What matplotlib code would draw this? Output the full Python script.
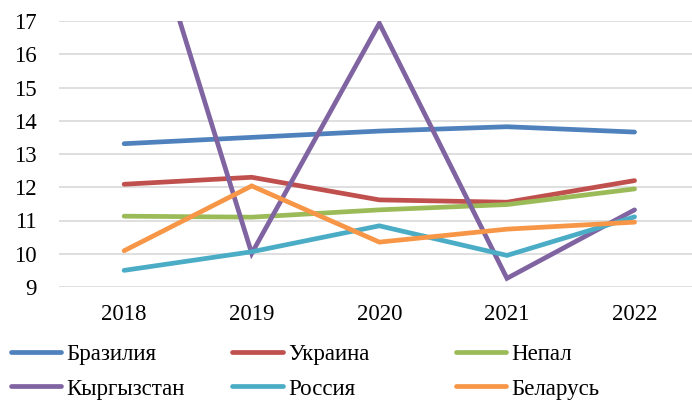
import matplotlib
matplotlib.use("Agg")
import matplotlib.pyplot as plt

years = ["2018", "2019", "2020", "2021", "2022"]
brazil = [13.31, 13.50, 13.69, 13.82, 13.66]
ukraine = [12.09, 12.30, 11.62, 11.55, 12.20]
nepal = [11.13, 11.10, 11.32, 11.48, 11.95]
kyrgyzstan = [22.4, 10.01, 16.93, 9.26, 11.32]
russia = [9.50, 10.06, 10.84, 9.95, 11.11]
belarus = [10.09, 12.04, 10.35, 10.74, 10.95]

names = ["Бразилия", "Украина", "Непал", "Кыргызстан", "Россия", "Беларусь"]
series = [brazil, ukraine, nepal, kyrgyzstan, russia, belarus]
colors = ["#4F81BD", "#C0504D", "#9BBB59", "#8064A2", "#4BACC6", "#F79646"]
yticks = [9, 10, 11, 12, 13, 14, 15, 16, 17]

plt.rcParams['font.family'] = ['Liberation Serif', 'DejaVu Serif']

fig = plt.figure(figsize=(6.92, 4.0), dpi=100)
ax = fig.add_axes([0.0853, 0.2825, 0.9147, 0.665])
x = list(range(len(years)))
handles = []
for name, vals, c in zip(names, series, colors):
    h, = ax.plot(x, vals, color=c, lw=3.4, solid_capstyle='round',
                 solid_joinstyle='miter', label=name, zorder=3)
    handles.append(h)

ax.set_xlim(-0.51, 4.45)
ax.set_ylim(9, 17)
ax.set_yticks(yticks)
ax.set_xticks(x)
ax.set_xticklabels(years)
ax.grid(axis='y', color='#D9D9D9', lw=1.2, zorder=0)
for s in ax.spines.values():
    s.set_visible(False)
ax.tick_params(axis='both', length=0, labelsize=16.5)
ax.tick_params(axis='y', pad=16)
ax.tick_params(axis='x', pad=12)

col_x = [10.5, 232.5, 455.5]
cols = [[0, 3], [1, 4], [2, 5]]
for cx, idx in zip(col_x, cols):
    fig.legend([handles[i] for i in idx], [names[i] for i in idx],
               loc='center left', bbox_to_anchor=(cx / 692, 0.071),
               frameon=False, fontsize=16.5, handlelength=2.2,
               handletextpad=0.22, labelspacing=0.6, borderpad=0,
               borderaxespad=0)

fig.savefig("out.png", dpi=100)
